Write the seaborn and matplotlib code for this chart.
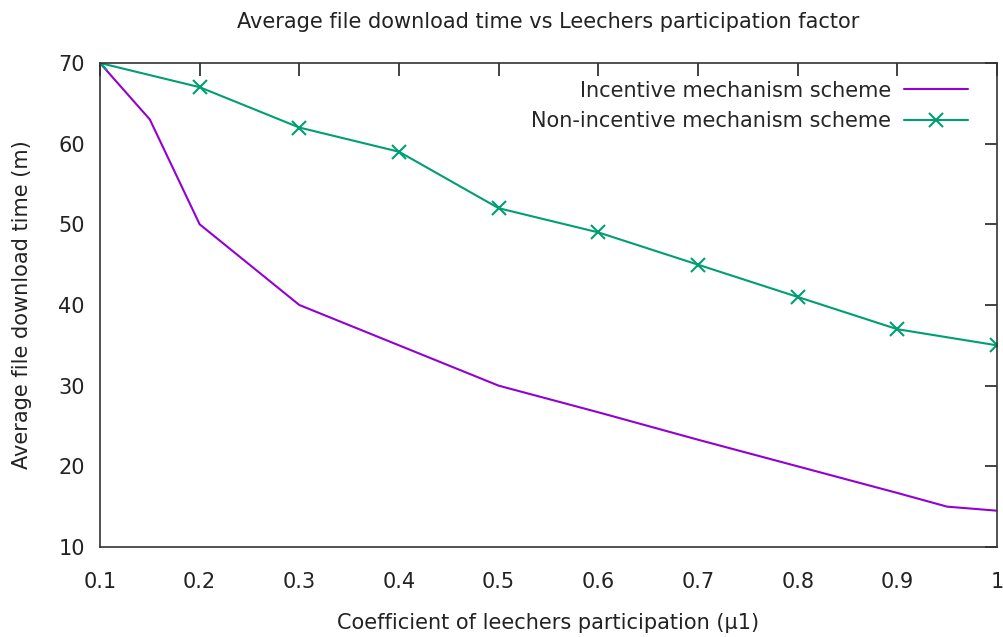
import pandas as pd
import matplotlib
matplotlib.use("Agg")
import matplotlib.pyplot as plt
import seaborn as sns

# incentive scheme (purple line, no markers)
x_inc = [0.1, 0.15, 0.2, 0.3, 0.4, 0.5, 0.6, 0.7, 0.8, 0.9, 0.95, 1.0]
y_inc = [70, 63, 50, 40, 35, 30, 26.7, 23.3, 20, 16.7, 15, 14.5]

# non-incentive scheme (green line with x markers)
x_non = [0.1, 0.2, 0.3, 0.4, 0.5, 0.6, 0.7, 0.8, 0.9, 1.0]
y_non = [70, 67, 62, 59, 52, 49, 45, 41, 37, 35]

xticks = [0.1, 0.2, 0.3, 0.4, 0.5, 0.6, 0.7, 0.8, 0.9, 1.0]
xticklabels = ["0.1", "0.2", "0.3", "0.4", "0.5", "0.6", "0.7", "0.8", "0.9", "1"]
yticks = [10, 20, 30, 40, 50, 60, 70]

df_inc = pd.DataFrame({"x": x_inc, "y": y_inc})
df_non = pd.DataFrame({"x": x_non, "y": y_non})

sns.set_style("white")
plt.rcParams["font.family"] = ["DejaVu Sans"]

fig = plt.figure(figsize=(10.04, 6.37), dpi=100)
ax = fig.add_axes([0.0996, 0.1413, 0.8934, 0.7598])

purple = "#9400d3"
green = "#009e73"

sns.lineplot(x="x", y="y", data=df_inc, ax=ax, color=purple, linewidth=1.5,
             label="Incentive mechanism scheme")
sns.lineplot(x="x", y="y", data=df_non, ax=ax, color=green, linewidth=1.5,
             marker="x", markersize=10, markeredgewidth=1.5, markeredgecolor=green,
             label="Non-incentive mechanism scheme")

ax.set_xlim(0.1, 1.0)
ax.set_ylim(10, 70)
ax.set_xticks(xticks)
ax.set_xticklabels(xticklabels)
ax.set_yticks(yticks)
ax.tick_params(direction="in", length=9, width=1.2, top=True, right=True,
               labelsize=15, colors="#222222", pad=18)
ax.tick_params(axis="y", pad=11)
for s in ax.spines.values():
    s.set_color("#333333")
    s.set_linewidth(1.2)

ax.set_title("Average file download time vs Leechers participation factor",
             fontsize=15, pad=25, color="#222222")
ax.set_xlabel("Coefficient of leechers participation (\u00b51)", fontsize=15,
              labelpad=15, color="#222222")
ax.set_ylabel("Average file download time (m)", fontsize=15, labelpad=19,
              color="#222222")

ax.legend(loc="upper right", frameon=False, markerfirst=False, fontsize=15,
          handlelength=3.1, handletextpad=0.6, borderaxespad=0.4,
          labelspacing=0.5, borderpad=0.45, bbox_to_anchor=(0.988, 1.0))

fig.savefig("out.png", dpi=100)
